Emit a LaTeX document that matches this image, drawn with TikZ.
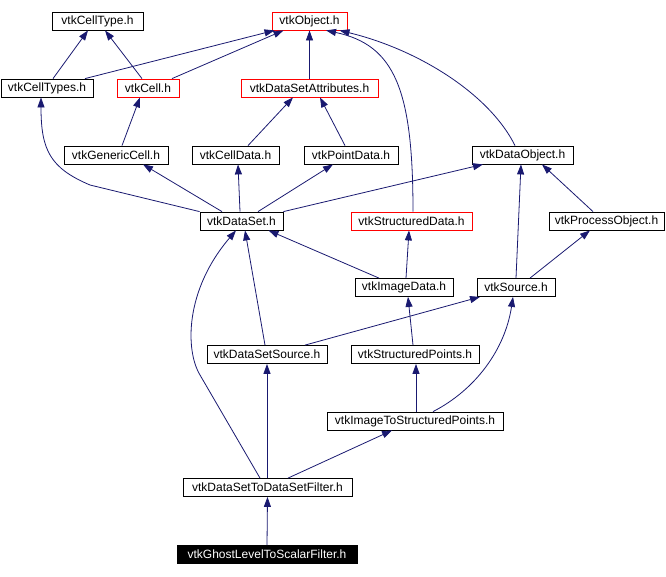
\documentclass[tikz,border=0pt]{standalone}
\usepackage{fontspec}
\setmainfont{Liberation Sans}
\usepackage{tikz}
\usetikzlibrary{arrows.meta}
\definecolor{edgeblue}{HTML}{191970}
\definecolor{incred}{HTML}{FF0000}
\tikzstyle{header} = [rectangle, draw=black, fill=white, line width=0.8pt, minimum height=18pt, inner sep=0pt, text=black, font=\fontsize{12}{14}\selectfont]
\tikzstyle{redheader} = [header, draw=incred]
\tikzstyle{mainheader} = [header, fill=black, text=white]
\tikzstyle{dep} = [line width=0.8pt, draw=edgeblue, -{Triangle[length=10pt,width=7pt]}]

\begin{document}
\begin{tikzpicture}[x=1pt, y=-1pt]
    \useasboundingbox (0,0) rectangle (666,576);
    \node[header, minimum width=91pt] (celltype) at (97.5,21) {vtkCellType.h};
    \node[redheader, minimum width=75pt] (object) at (309.5,21) {vtkObject.h};
    \node[header, minimum width=92pt] (celltypes) at (47,88) {vtkCellTypes.h};
    \node[redheader, minimum width=62pt] (cell) at (148,88) {vtkCell.h};
    \node[redheader, minimum width=137pt] (dsattr) at (309.5,88) {vtkDataSetAttributes.h};
    \node[header, minimum width=104pt] (genericcell) at (116,155) {vtkGenericCell.h};
    \node[header, minimum width=87pt] (celldata) at (235.5,155) {vtkCellData.h};
    \node[header, minimum width=94pt] (pointdata) at (351,155) {vtkPointData.h};
    \node[header, minimum width=101pt] (dataobject) at (522.5,155) {vtkDataObject.h};
    \node[header, minimum width=83pt] (dataset) at (241.5,221) {vtkDataSet.h};
    \node[redheader, minimum width=121pt] (structdata) at (411.5,221) {vtkStructuredData.h};
    \node[header, minimum width=115pt] (procobj) at (606.5,221) {vtkProcessObject.h};
    \node[header, minimum width=98pt] (imagedata) at (404,287.5) {vtkImageData.h};
    \node[header, minimum width=78pt] (source) at (516,287.5) {vtkSource.h};
    \node[header, minimum width=120pt] (dssource) at (267,354.5) {vtkDataSetSource.h};
    \node[header, minimum width=128pt] (structpoints) at (415,354.5) {vtkStructuredPoints.h};
    \node[header, minimum width=176pt] (imgtosp) at (415,421) {vtkImageToStructuredPoints.h};
    \node[header, minimum width=169pt] (dstodsf) at (267.5,487.5) {vtkDataSetToDataSetFilter.h};
    \node[mainheader, minimum width=180pt] (ghost) at (267,554.5) {vtkGhostLevelToScalarFilter.h};

    % top rows
    \draw[dep] ([xshift=6pt]celltypes.north) -- ([xshift=-9.5pt]celltype.south);
    \draw[dep] ([xshift=-6pt]cell.north) -- ([xshift=7.5pt]celltype.south);
    \draw[dep] ([xshift=38pt]celltypes.north) -- ([xshift=-35pt]object.south);
    \draw[dep] ([xshift=24pt]cell.north) -- ([xshift=-26pt]object.south);
    \draw[dep] (dsattr.north) -- (object.south);
    \draw[dep] ([xshift=1.5pt]structdata.north) .. controls (413,90) and (395,45) .. ([xshift=16.5pt]object.south);
    \draw[dep] ([xshift=-7.5pt]dataobject.north) .. controls (490,95) and (420,50) .. ([xshift=30pt]object.south);
    \draw[dep] ([xshift=6pt]genericcell.north) -- ([xshift=-8pt]cell.south);
    \draw[dep] ([xshift=12.5pt]celldata.north) -- ([xshift=-16.5pt]dsattr.south);
    \draw[dep] ([xshift=-6pt]pointdata.north) -- ([xshift=10.5pt]dsattr.south);

    % vtkDataSet.h
    \draw[dep] (dataset.north west) -- (90,185) .. controls (50,168) and (41,150) .. ([xshift=-6pt]celltypes.south);
    \draw[dep] ([xshift=-19.5pt]dataset.north) -- ([xshift=27pt]genericcell.south);
    \draw[dep] ([xshift=-1.5pt]dataset.north) -- ([xshift=2.5pt]celldata.south);
    \draw[dep] ([xshift=16.5pt]dataset.north) -- ([xshift=-18pt]pointdata.south);
    \draw[dep] (dataset.north east) -- ([xshift=-39.5pt]dataobject.south);

    % middle rows
    \draw[dep] ([xshift=-25pt]imagedata.north) -- ([xshift=27pt]dataset.south);
    \draw[dep] ([xshift=2pt]imagedata.north) -- ([xshift=-2.5pt]structdata.south);
    \draw[dep] (source.north) -- ([xshift=-1.5pt]dataobject.south);
    \draw[dep] ([xshift=-13.5pt]procobj.north) -- ([xshift=19.5pt]dataobject.south);
    \draw[dep] ([xshift=14pt]source.north) -- ([xshift=-16.5pt]procobj.south);
    \draw[dep] ([xshift=-2pt]dssource.north) -- ([xshift=3.5pt]dataset.south);
    \draw[dep] ([xshift=38pt]dssource.north) -- ([xshift=-36pt]source.south);
    \draw[dep] ([xshift=-2pt]structpoints.north) -- ([xshift=4pt]imagedata.south);

    % bottom rows
    \draw[dep] ([xshift=1pt]imgtosp.north) -- ([xshift=1pt]structpoints.south);
    \draw[dep] ([xshift=18pt]imgtosp.north) .. controls (475,390) and (505,350) .. ([xshift=-3pt]source.south);
    \draw[dep] ([xshift=-7.5pt]dstodsf.north) -- (200,375) .. controls (185,350) and (185,290) .. ([xshift=-5.5pt]dataset.south);
    \draw[dep] ([xshift=-0.5pt]dstodsf.north) -- (dssource.south);
    \draw[dep] ([xshift=20.5pt]dstodsf.north) -- ([xshift=-23pt]imgtosp.south);
    \draw[dep] (ghost.north) -- (dstodsf.south);
\end{tikzpicture}
\end{document}
